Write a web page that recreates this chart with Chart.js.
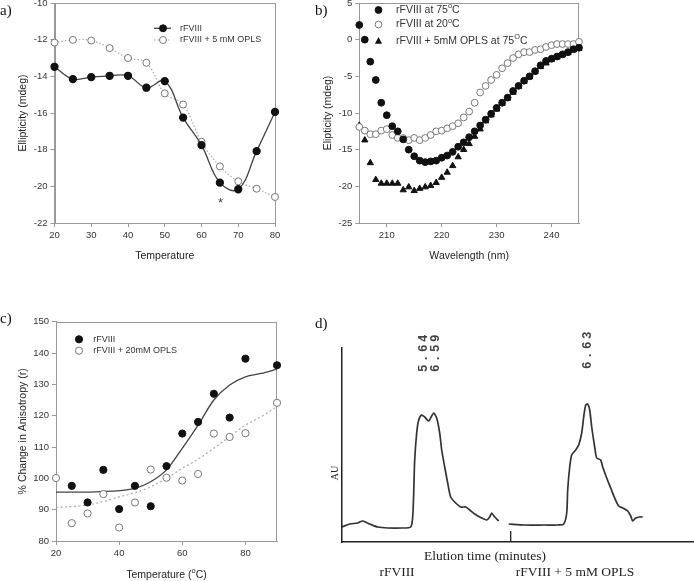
<!DOCTYPE html>
<html>
<head>
<meta charset="utf-8">
<script src="https://cdn.jsdelivr.net/npm/chart.js@4.4.1/dist/chart.umd.min.js"></script>
<style>
html, body { margin: 0; padding: 0; background: #fff; }
#page { position: relative; width: 694px; height: 581px; overflow: hidden; }
canvas { position: absolute; }
</style>
</head>
<body>
<div id="page">
  <canvas id="chartA" width="347" height="302" style="left:0px;top:-12px;width:347px;height:302px"></canvas>
  <canvas id="chartB" width="384" height="302" style="left:310px;top:-12px;width:384px;height:302px"></canvas>
  <canvas id="chartC" width="330" height="291" style="left:0px;top:290px;width:330px;height:291px"></canvas>
  <canvas id="chartD" width="384" height="291" style="left:310px;top:290px;width:384px;height:291px"></canvas>
</div>
<script>
// ---------- a) ellipticity vs temperature ----------
const tempA = [20, 25, 30, 35, 40, 45, 50, 55, 60, 65, 70, 75, 80];
const ellipFVIII = [-13.48, -14.15, -14.04, -13.97, -13.97, -14.62, -14.26, -16.25, -17.75, -19.8, -20.16, -18.08, -15.94];
const ellipOPLS = [-12.16, -12.01, -12.05, -12.46, -13.0, -13.26, -14.93, -15.54, -17.57, -18.91, -19.73, -20.13, -20.58];
const aXTicks = [20, 30, 40, 50, 60, 70, 80];
const aYTicks = [-22, -20, -18, -16, -14, -12, -10];

// ---------- b) CD spectra ----------
const wavelength = [205, 206, 207, 208, 209, 210, 211, 212, 213, 214, 215, 216, 217, 218, 219, 220,
  221, 222, 223, 224, 225, 226, 227, 228, 229, 230, 231, 232, 233, 234, 235, 236, 237, 238, 239, 240,
  241, 242, 243, 244, 245];
const cd75 = [2.0, 0.0, -3.0, -5.5, -8.6, -10.3, -11.8, -12.5, -13.6, -15.0, -15.9, -16.5, -16.7, -16.6, -16.5, -16.1,
  -15.8, -15.3, -14.6, -14.0, -13.3, -12.5, -11.7, -10.9, -10.1, -9.3, -8.6, -7.9, -7.0, -6.3, -5.6, -5.0,
  -4.3, -3.5, -2.9, -2.6, -2.3, -2.0, -1.7, -1.3, -1.1];
const cd20 = [-11.9, -12.4, -12.9, -12.9, -12.4, -12.2, -13.0, -13.4, -13.4, -13.7, -13.4, -13.7, -13.4, -13.0, -12.5, -12.4,
  -12.1, -11.8, -11.4, -10.6, -9.8, -8.6, -7.2, -6.3, -5.5, -4.8, -3.9, -3.2, -2.5, -2.0, -1.7, -1.7,
  -1.4, -1.3, -1.0, -0.75, -0.6, -0.6, -0.6, -0.6, -0.3];
const cdOPLS75 = [-11.7, -13.7, -16.8, -19.1, -19.6, -19.6, -19.6, -19.6, -20.5, -20.1, -20.6, -20.3, -20.1, -19.9, -19.5, -18.8,
  -18.1, -17.2, -16.0, -15.0, -14.2, -13.2, -12.2, -11.1, -10.3, -9.5, -8.7, -8.0, -7.2, -6.4, -5.7, -5.1,
  -4.4, -3.7, -3.2, -2.7, -2.4, -2.1, -1.8, -1.4, -1.2];
const bXTicks = [210, 220, 230, 240];
const bYTicks = [-25, -20, -15, -10, -5, 0, 5];

// ---------- c) anisotropy ----------
const tempC = [20, 25, 30, 35, 40, 45, 50, 55, 60, 65, 70, 75, 80, 90];
const anisoFVIII = [null, 97.6, 92.3, 102.7, 90.2, 97.6, 91.1, 103.9, 114.3, 118.0, 127.0, 119.4, 138.2, 136.1];
const anisoOPLS = [100.1, 85.7, 88.8, 95.0, 84.3, 92.3, 102.8, 100.2, 99.3, 101.4, 114.3, 113.2, 114.4, 124.1];
const fitTemp = [20, 25, 30, 35, 40, 45, 50, 55, 60, 65, 70, 75, 80, 85, 90];
const fitFVIII = [95.6, 95.6, 95.6, 95.8, 96.1, 96.8, 98.9, 102.7, 109.6, 117.0, 125.0, 129.8, 132.4, 133.5, 134.9];
const fitOPLS = [90.7, 91.0, 91.5, 92.6, 94.1, 95.4, 97.3, 100.0, 103.2, 106.1, 109.6, 113.3, 117.0, 119.7, 122.9];
const cXTicks = [20, 40, 60, 80];
const cYTicks = [80, 90, 100, 110, 120, 130, 140, 150];

// ---------- d) elution traces (arbitrary units) ----------
const elutionTimeA = [0.0, 0.8, 1.6, 2.1, 2.8, 3.6, 4.6, 6.0, 6.9, 7.1, 7.2, 7.3, 7.5, 7.7, 8.0, 8.3, 8.7, 9.0, 9.2, 9.5,
  9.8, 10.0, 10.3, 10.6, 10.9, 11.4, 11.9, 12.4, 12.8, 13.3, 14.0, 14.5, 14.8, 15.0, 15.3, 15.7];
const signalA = [1.5, 1.8, 1.9, 2.1, 1.8, 1.5, 1.4, 1.4, 1.5, 2.5, 4.9, 8.2, 10.9, 12.2, 12.7, 12.5, 12.1, 12.6, 12.9, 12.4,
  10.9, 9.2, 7.5, 5.9, 4.5, 3.9, 3.5, 3.5, 3.2, 2.8, 2.4, 2.2, 2.5, 2.9, 2.5, 2.1];
const elutionTimeB = [16.7, 18.3, 20.3, 21.6, 22.2, 22.5, 22.6, 22.8, 23.0, 23.4, 23.7, 24.0, 24.2, 24.4, 24.6, 24.8,
  25.0, 25.3, 25.5, 25.9, 26.1, 26.5, 26.9, 27.3, 27.7, 28.1, 28.6, 28.9, 29.1, 29.4, 29.8, 30.1];
const signalB = [1.8, 1.7, 1.7, 1.7, 1.8, 2.9, 5.2, 7.5, 8.7, 9.2, 9.7, 10.9, 12.5, 13.7, 13.8, 13.2,
  11.5, 9.5, 8.4, 8.2, 7.5, 6.4, 5.4, 4.4, 3.6, 3.4, 3.1, 2.6, 2.1, 2.4, 2.5, 2.5];
const peakLabels = ['5.64', '6.59', '6.63'];
const peakTimes = [8.2, 9.4, 24.6];
const peakLabelY = [18.9, 18.9, 19.2];
const traceBreak = 16.9;

Chart.defaults.font.family = "'Liberation Sans', Arial, sans-serif";
Chart.defaults.color = '#333';

const SANS = "'Liberation Sans', Arial, sans-serif";
const SERIF = "'Liberation Serif', 'Times New Roman', serif";

function xy(xs, ys) {
  return xs.map((x, i) => ({ x: x, y: ys[i] }));
}

function axis(o) {
  return {
    type: 'linear', min: o.min, max: o.max,
    afterBuildTicks: s => { s.ticks = o.ticks.map(v => ({ value: v })); },
    afterFit: s => {
      if (o.width != null) s.width = o.width;
      if (o.height != null) s.height = o.height;
    },
    grid: { drawOnChartArea: false, drawTicks: true, tickLength: 4, color: '#999' },
    border: { color: '#999', width: 1 },
    ticks: { font: { size: 9.5 }, color: '#333', padding: 3, maxRotation: 0, autoSkip: false },
    title: o.title
      ? { display: true, text: o.title, font: { size: 10.5 }, color: '#222', padding: o.titlePad }
      : { display: false }
  };
}

// draws texts / legends in page coordinates
function overlay(ox, oy, drawFn, box) {
  return {
    id: 'overlay',
    beforeDatasetsDraw(chart) {
      if (!box) return;
      const a = chart.chartArea, ctx = chart.ctx;
      ctx.save();
      ctx.strokeStyle = '#999';
      ctx.lineWidth = 1;
      ctx.strokeRect(Math.round(a.left) + 0.5, Math.round(a.top) + 0.5,
        Math.round(a.right - a.left) - 1, Math.round(a.bottom - a.top));
      ctx.restore();
    },
    afterDraw(chart) {
      const ctx = chart.ctx;
      ctx.save();
      ctx.translate(-ox, -oy);
      const px = v => chart.scales.x.getPixelForValue(v) + ox;
      const py = v => chart.scales.y.getPixelForValue(v) + oy;
      drawFn(ctx, px, py);
      ctx.restore();
    }
  };
}

function richText(ctx, parts, x, y, size, align) {
  let total = 0;
  parts.forEach(p => {
    ctx.font = (p.sup ? size * 0.7 : size) + 'px ' + SANS;
    total += ctx.measureText(p.t).width;
  });
  let cx = align === 'center' ? x - total / 2 : x;
  ctx.textAlign = 'left';
  ctx.textBaseline = 'middle';
  parts.forEach(p => {
    const s = p.sup ? size * 0.7 : size;
    ctx.font = s + 'px ' + SANS;
    ctx.fillText(p.t, cx, p.sup ? y - size * 0.38 : y);
    cx += ctx.measureText(p.t).width;
  });
}

function circle(ctx, x, y, r, filled) {
  ctx.beginPath();
  ctx.arc(x, y, r, 0, Math.PI * 2);
  ctx.fillStyle = filled ? '#111' : '#fff';
  ctx.fill();
  ctx.lineWidth = 1;
  ctx.strokeStyle = filled ? '#111' : '#777';
  ctx.stroke();
}

function triangle(ctx, x, y, r) {
  ctx.beginPath();
  ctx.moveTo(x, y - r * 1.1);
  ctx.lineTo(x + r, y + r * 0.75);
  ctx.lineTo(x - r, y + r * 0.75);
  ctx.closePath();
  ctx.fillStyle = '#111';
  ctx.fill();
}

function panelLabel(ctx, text, x, y) {
  ctx.fillStyle = '#111';
  ctx.font = '15px ' + SERIF;
  ctx.textAlign = 'left';
  ctx.textBaseline = 'middle';
  ctx.fillText(text, x, y);
}

// ==========================================
// a) Ellipticity vs temperature
// ==========================================
new Chart(document.getElementById('chartA'), {
  type: 'scatter',
  data: {
    datasets: [
      { data: xy(tempA, ellipFVIII), showLine: true, tension: 0.4, borderColor: '#444', borderWidth: 1.3,
        pointRadius: 3.5, pointBackgroundColor: '#111', pointBorderColor: '#111', clip: false },
      { data: xy(tempA, ellipOPLS), showLine: true, tension: 0.4, borderColor: '#aaa', borderWidth: 1.2,
        borderDash: [1.5, 2], pointRadius: 3.5, pointBackgroundColor: '#fff', pointBorderColor: '#777',
        pointBorderWidth: 1, clip: false }
    ]
  },
  options: {
    responsive: false, animation: false,
    layout: { padding: { top: 15, right: 72, left: 0, bottom: 0 } },
    plugins: { legend: { display: false }, tooltip: { enabled: false } },
    scales: {
      x: axis({ min: 20, max: 80, ticks: aXTicks, height: 67, title: 'Temperature', titlePad: { top: 0, bottom: 28 } }),
      y: axis({ min: -22, max: -10, ticks: aYTicks, width: 54.5, title: 'Ellipticity (mdeg)', titlePad: { top: 16.4, bottom: 0 } })
    }
  },
  plugins: [overlay(0, -12, (ctx, px, py) => {
    panelLabel(ctx, 'a)', 0, 11);
    // legend
    ctx.strokeStyle = '#444'; ctx.lineWidth = 1.3;
    ctx.beginPath(); ctx.moveTo(154, 28.3); ctx.lineTo(171, 28.3); ctx.stroke();
    circle(ctx, 163, 28.3, 3.5, true);
    ctx.strokeStyle = '#aaa'; ctx.lineWidth = 1.2; ctx.setLineDash([1.5, 2]);
    ctx.beginPath(); ctx.moveTo(154, 40); ctx.lineTo(171, 40); ctx.stroke();
    ctx.setLineDash([]);
    circle(ctx, 163, 40, 3.5, false);
    ctx.fillStyle = '#333';
    richText(ctx, [{ t: 'rFVIII' }], 180, 28.3, 9);
    richText(ctx, [{ t: 'rFVIII + 5 mM OPLS' }], 180, 40, 9);
    // asterisk
    ctx.fillStyle = '#444';
    ctx.font = '13px ' + SANS;
    ctx.textAlign = 'center';
    ctx.textBaseline = 'middle';
    ctx.fillText('*', px(65.2), py(-20.95));
  }, true)]
});

// ==========================================
// b) CD spectra
// ==========================================
new Chart(document.getElementById('chartB'), {
  type: 'scatter',
  data: {
    datasets: [
      { data: xy(wavelength, cd75), pointRadius: 3.4, pointBackgroundColor: '#111', pointBorderColor: '#111', clip: false },
      { data: xy(wavelength, cd20), pointRadius: 3.4, pointBackgroundColor: '#fff', pointBorderColor: '#777',
        pointBorderWidth: 1, clip: false },
      { data: xy(wavelength, cdOPLS75), pointStyle: 'triangle', pointRadius: 3.6, pointBackgroundColor: '#111',
        pointBorderColor: '#111', clip: false }
    ]
  },
  options: {
    responsive: false, animation: false,
    layout: { padding: { top: 15, right: 115, left: 0, bottom: 0 } },
    plugins: { legend: { display: false }, tooltip: { enabled: false } },
    scales: {
      x: axis({ min: 205, max: 245, ticks: bXTicks, height: 67, title: 'Wavelength (nm)', titlePad: { top: 0, bottom: 28 } }),
      y: axis({ min: -25, max: 5, ticks: bYTicks, width: 49.3, title: 'Elipticity (mdeg)', titlePad: { top: 11.4, bottom: 0 } })
    }
  },
  plugins: [overlay(310, -12, (ctx) => {
    panelLabel(ctx, 'b)', 315, 11);
    circle(ctx, 378.5, 10, 3.4, true);
    circle(ctx, 378.5, 24.5, 3.4, false);
    triangle(ctx, 378.5, 41, 3.6);
    ctx.fillStyle = '#333';
    richText(ctx, [{ t: 'rFVIII at 75' }, { t: 'o', sup: true }, { t: 'C' }], 396, 10, 10.5);
    richText(ctx, [{ t: 'rFVIII at 20' }, { t: 'o', sup: true }, { t: 'C' }], 396, 24.5, 10.5);
    richText(ctx, [{ t: 'rFVIII + 5mM OPLS at 75' }, { t: 'O', sup: true }, { t: 'C' }], 396, 41, 10.5);
  }, true)]
});

// ==========================================
// c) Anisotropy
// ==========================================
new Chart(document.getElementById('chartC'), {
  type: 'scatter',
  data: {
    datasets: [
      { data: xy(tempC, anisoFVIII), pointRadius: 3.6, pointBackgroundColor: '#111', pointBorderColor: '#111', clip: false },
      { data: xy(tempC, anisoOPLS), pointRadius: 3.6, pointBackgroundColor: '#fff', pointBorderColor: '#777',
        pointBorderWidth: 1, clip: false },
      { data: xy(fitTemp, fitFVIII), showLine: true, cubicInterpolationMode: 'monotone', pointRadius: 0,
        borderColor: '#444', borderWidth: 1.3, clip: false },
      { data: xy(fitTemp, fitOPLS), showLine: true, cubicInterpolationMode: 'monotone', pointRadius: 0,
        borderColor: '#aaa', borderWidth: 1.2, borderDash: [2, 2.5], clip: false }
    ]
  },
  options: {
    responsive: false, animation: false,
    layout: { padding: { top: 31.7, right: 53, left: 0, bottom: 0 } },
    plugins: { legend: { display: false }, tooltip: { enabled: false } },
    scales: {
      x: axis({ min: 20, max: 90, ticks: cXTicks, height: 40 }),
      y: axis({ min: 80, max: 150, ticks: cYTicks, width: 56, title: '% Change in Anisotropy (r)', titlePad: { top: 16.4, bottom: 0 } })
    }
  },
  plugins: [overlay(0, 290, (ctx) => {
    panelLabel(ctx, 'c)', 0, 319);
    circle(ctx, 79, 339.3, 3.6, true);
    circle(ctx, 79, 350.7, 3.6, false);
    ctx.fillStyle = '#333';
    richText(ctx, [{ t: 'rFVIII' }], 93.3, 339.3, 9);
    richText(ctx, [{ t: 'rFVIII + 20mM OPLS' }], 93.3, 350.7, 9);
    ctx.fillStyle = '#222';
    richText(ctx, [{ t: 'Temperature (' }, { t: 'o', sup: true }, { t: 'C)' }], 166.5, 575, 10.5, 'center');
  }, true)]
});

// ==========================================
// d) Elution profiles
// ==========================================
new Chart(document.getElementById('chartD'), {
  type: 'scatter',
  data: {
    datasets: [
      { data: xy(elutionTimeA, signalA), showLine: true, tension: 0.25, pointRadius: 0, borderColor: '#333', borderWidth: 1.7 },
      { data: xy(elutionTimeB, signalB), showLine: true, tension: 0.25, pointRadius: 0, borderColor: '#333', borderWidth: 1.7 }
    ]
  },
  options: {
    responsive: false, animation: false,
    layout: { padding: { top: 58, right: 0, left: 0, bottom: 0 } },
    plugins: { legend: { display: false }, tooltip: { enabled: false } },
    scales: {
      x: { type: 'linear', min: 0, max: 35.23, afterFit: s => { s.height = 39; },
        grid: { display: false }, ticks: { display: false }, border: { color: '#222', width: 1.5 } },
      y: { type: 'linear', min: 0, max: 19.4, afterFit: s => { s.width = 31.7; },
        grid: { display: false }, ticks: { display: false }, border: { color: '#222', width: 1.5 } }
    }
  },
  plugins: [overlay(310, 290, (ctx, px, py) => {
    panelLabel(ctx, 'd)', 315, 324);
    // separator mark between the two traces
    ctx.strokeStyle = '#222'; ctx.lineWidth = 1.3;
    ctx.beginPath(); ctx.moveTo(px(traceBreak), py(0)); ctx.lineTo(px(traceBreak), py(1.1)); ctx.stroke();
    // peak retention labels
    ctx.fillStyle = '#444';
    ctx.font = 'bold 12.5px "Liberation Mono", monospace';
    ctx.letterSpacing = '2.5px';
    ctx.textAlign = 'center';
    ctx.textBaseline = 'middle';
    peakLabels.forEach((lab, i) => {
      ctx.save();
      ctx.translate(px(peakTimes[i]), py(peakLabelY[i]));
      ctx.rotate(-Math.PI / 2);
      ctx.fillText(lab, 1, 0);
      ctx.restore();
    });
    ctx.letterSpacing = '0px';
    // texts
    ctx.fillStyle = '#222';
    ctx.font = '10px ' + SERIF;
    ctx.save();
    ctx.translate(335, 473);
    ctx.rotate(-Math.PI / 2);
    ctx.fillText('AU', 0, 0);
    ctx.restore();
    ctx.font = '13.5px ' + SERIF;
    ctx.textAlign = 'center';
    ctx.fillText('Elution time (minutes)', 485, 556);
    ctx.fillText('rFVIII', 397, 572);
    ctx.fillText('rFVIII + 5 mM OPLS', 575, 572);
  }, false)]
});
</script>
</body>
</html>
